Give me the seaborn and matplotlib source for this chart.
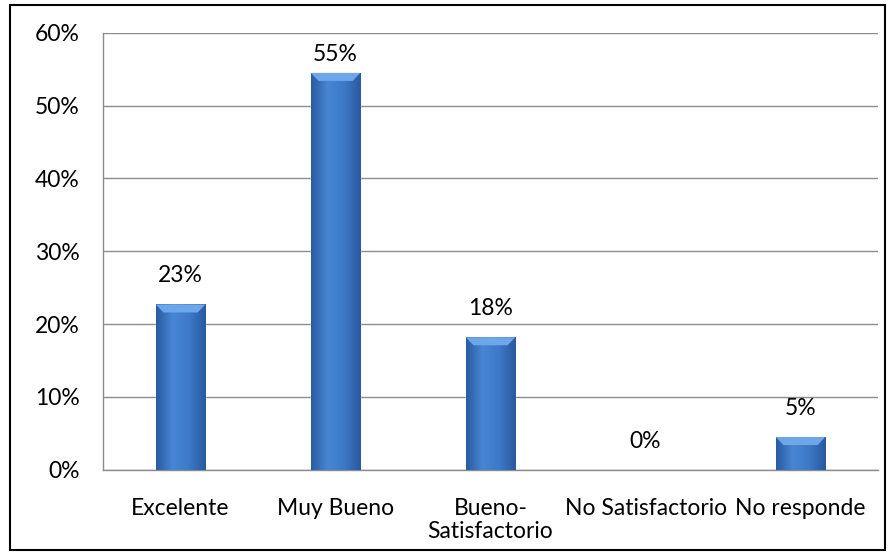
import numpy as np
import pandas as pd
import seaborn as sns
import matplotlib.pyplot as plt
from matplotlib.patches import Rectangle, Polygon
from matplotlib.colors import LinearSegmentedColormap
from matplotlib.ticker import PercentFormatter

categorias = ["Excelente", "Muy Bueno", "Bueno-\nSatisfactorio", "No Satisfactorio", "No responde"]
porcentajes = [22.7, 54.5, 18.2, 0.0, 4.5]
etiquetas = ["23%", "55%", "18%", "0%", "5%"]

df = pd.DataFrame({"categoria": categorias, "pct": porcentajes})

sns.set_theme(style="white")
plt.rcParams["font.family"] = ["Lato", "DejaVu Sans"]

fig = plt.figure(figsize=(8.96, 5.56), dpi=100)
ax = fig.add_axes([0.115, 0.155, 0.865, 0.786])

sns.barplot(data=df, x="categoria", y="pct", color="#3a76c4", width=0.32, ax=ax,
            saturation=1, edgecolor="none")

ax.set_ylim(0, 60)
ax.set_yticks(range(0, 61, 10))
ax.yaxis.set_major_formatter(PercentFormatter(decimals=0))
ax.grid(axis="y", color="#8c8c8c", linewidth=1)
ax.set_axisbelow(True)
ax.set_xlabel("")
ax.set_ylabel("")
for s in ["top", "right"]:
    ax.spines[s].set_visible(False)
for s in ["left", "bottom"]:
    ax.spines[s].set_color("#8c8c8c")
    ax.spines[s].set_linewidth(1)
ax.tick_params(axis="both", length=0, labelsize=16.5, colors="black")
ax.tick_params(axis="x", pad=20)
ax.tick_params(axis="y", pad=17)
for t in ax.get_xticklabels():
    t.set_linespacing(1.15)

# degradado horizontal para simular barras con bisel
cmap = LinearSegmentedColormap.from_list("bisel", ["#2a5ba2", "#4886d4", "#3d79c7", "#2a5aa0"])
grad = np.linspace(0, 1, 64).reshape(1, -1)
px_por_unidad = 0.786 * 5.56 * 100 / 60  # pixeles por punto porcentual
for bar, lab in zip(ax.patches, etiquetas):
    x0, w, h = bar.get_x(), bar.get_width(), bar.get_height()
    if h > 0:
        bar.set_visible(False)
        im = ax.imshow(grad, cmap=cmap, aspect="auto", extent=[x0, x0 + w, 0, h], zorder=3)
        clip = Rectangle((x0, 0), w, h, transform=ax.transData, facecolor="none")
        ax.add_patch(clip)
        im.set_clip_path(clip)
        d, t = 0.05, min(1.1, h * 0.3)
        ax.add_patch(Polygon([(x0, h), (x0 + w, h), (x0 + w - d, h - t), (x0 + d, h - t)],
                             closed=True, facecolor="#6ea6ea", edgecolor="none", zorder=4))
    # como en Excel: la etiqueta se acerca a la barra si no cabe arriba
    libre = (60 - h) * px_por_unidad - 32
    off_px = max(6, min(18, libre))
    ax.annotate(lab, (x0 + w / 2, h), xytext=(0, off_px * 0.72), textcoords="offset points",
                ha="center", va="bottom", fontsize=16.5, color="black")

ax.set_xlim(-0.5, 4.5)

fig.patches.append(Rectangle((0.011, 0.011), 0.977, 0.98, transform=fig.transFigure,
                             fill=False, edgecolor="black", linewidth=1.5))

fig.savefig("out.png", dpi=100)
